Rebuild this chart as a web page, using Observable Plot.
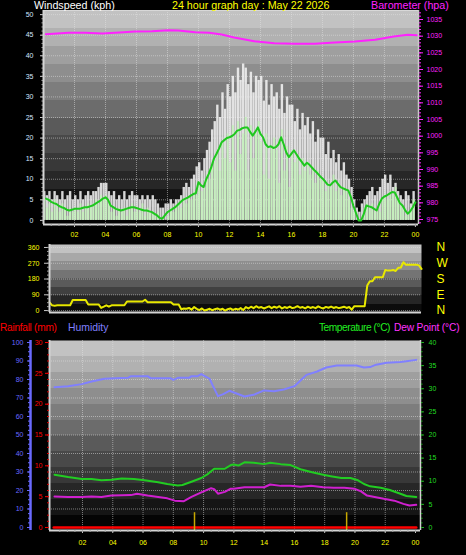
<!DOCTYPE html>
<html><head><meta charset="utf-8">
<script src="https://cdn.jsdelivr.net/npm/d3@7"></script>
<script src="https://cdn.jsdelivr.net/npm/@observablehq/plot@0.6"></script>
<style>
html,body{margin:0;padding:0;background:#000;}
#wrap{position:relative;width:466px;height:555px;overflow:hidden;background:#000;font-family:"Liberation Sans",Arial,sans-serif;}
.lbl{position:absolute;font-size:10.7px;line-height:11px;white-space:nowrap;}
.pl{position:absolute;left:0;}
</style></head><body>
<div id="wrap">
<svg id="defs" width="0" height="0" style="position:absolute"><defs></defs></svg>
<div id="p1" class="pl" style="top:0px"></div>
<div id="p2" class="pl" style="top:236px"></div>
<div id="p3" class="pl" style="top:330px"></div>
<div class="lbl" style="left:34px;top:0px;color:#ffffff">Windspeed (kph)</div>
<div class="lbl" style="left:172px;top:0px;color:#ffff00">24 hour graph day : May 22 2026</div>
<div class="lbl" style="left:371px;top:0px;color:#ff22ff">Barometer (hpa)</div>
<div class="lbl" style="left:0px;top:322px;color:#ff0000;font-size:10.2px;letter-spacing:-0.3px">Rainfall (mm)</div>
<div class="lbl" style="left:68px;top:322px;color:#8080ff;font-size:10.4px">Humidity</div>
<div class="lbl" style="right:76px;top:322px;color:#22ee22;font-size:10.2px;letter-spacing:-0.45px">Temperature (°C)</div>
<div class="lbl" style="left:394px;top:322px;color:#ff33ff;font-size:10.2px;letter-spacing:-0.15px">Dew Point (°C)</div>
</div>
<script>
// ---------- data (10-minute samples, 00:10 .. 24:00) ----------
const windGust = [
7,6,7,5,7,6, 5,7,5,6,7,5, 6,5,7,5,6,7, 6,7,7,8,9,9, 9,7,6,7,5,6, 5,7,5,6,7,6,
6,5,6,5,6,5, 6,5,4,3,3,4, 4,5,4,5,5,6, 8,9,8,10,11,13, 14,12,15,17,19,22, 24,28,25,31,27,33,
30,35,31,37,34,38, 37,33,36,31,35,34, 35,29,34,28,33,30, 31,27,33,26,30,28, 28,24,27,22,26,23, 25,21,24,19,22,20,
20,16,19,15,17,14, 16,12,14,11,10,8, 5,3,2,4,5,6, 7,8,6,7,8,10, 11,9,11,8,9,7, 6,5,7,6,4,7];
const windSpeed = [
5,3,4,2,5,3, 2,4,3,1,3,2, 3,2,4,2,3,4, 3,4,5,4,6,5, 6,4,2,3,1,3, 2,3,1,3,4,2,
3,2,4,1,3,2, 2,1,2,0,1,0, 1,3,2,3,4,3, 5,4,6,5,7,6, 9,7,8,11,10,13, 14,17,12,19,15,21,
14,23,12,24,16,21, 25,12,23,15,21,24, 19,11,21,10,18,20, 17,9,22,12,18,8, 17,14,16,11,15,12, 14,11,13,9,12,10,
10,7,9,8,11,7, 9,6,8,7,5,3, 2,0,0,1,3,4, 3,4,2,3,2,5, 6,5,7,6,8,5, 4,3,1,2,3,5];
const windAvg = [
5.3,5,4.5,4.2,4,3.5, 3.2,3,2.6,2.4,2.6,2.8, 2.8,2.8,3,3.2,3.2,3.4, 3.6,4,4.4,4.8,5.3,5.6,
5,3.6,3.2,2.8,2.6,2.4, 2.6,2.8,3,3.2,3.2,3, 2.8,2.6,2.4,2.4,2.2,2, 1.6,1.2,0.6,0.4,1.2,2,
2.4,2.8,3.2,3.8,4.4,5, 5.3,5.6,6,6.4,6.6,9.3, 8.5,8.1,10,11.3,13,15, 16.2,17.5,19,19.5,20,20.2,
20.5,21,21.8,22,22.4,22.6, 22.6,21.5,20.6,21.5,22.6,21, 20.2,18.5,17.8,18,17.6,17.8, 18.5,20.2,18.5,16.5,15.4,16.2,
17,16,15,14.2,13.3,14, 13.5,12.8,12.1,11.5,10.8,10.2, 9.5,8.7,8.5,9.2,9.7,8.9, 8.1,7.8,7.5,7.3,5.7,3.5,
1.8,0,0,1.5,3.6,3.4, 3.2,2.8,2.4,4,5.3,5.8, 6.1,6.5,6.9,6.8,5.5,4.2, 3.6,2.5,1.6,2.2,3.2,4.4];

const baroHours  = [0.15,1.6,2.7,3.8,4.9,5.9,7.0,8.1,8.7,9.8,10.7,11.5,12.3,13.6,14.9,16.2,17.5,18.8,20.1,21.4,22.6,23.5,24.1];
const baroValues = [1030.6,1031.0,1031.0,1030.8,1031.1,1031.4,1031.5,1031.8,1031.7,1031.2,1031.0,1030.5,1029.6,1028.5,1027.9,1027.7,1027.7,1028.1,1028.4,1028.9,1029.9,1030.4,1030.3];

// wind direction, 10-minute samples 00:00 .. 24:00
const windDir = [
47,30,28,30,30,30, 30,30,30,60,60,60, 60,60,60,35,35,35, 35,35,15,22,30,22, 30,30,30,30,30,30, 52,52,52,52,52,52,
52,62,48,48,48,48, 48,48,48,48,48,48, 35,35,35,8,12,10, 15,5,20,10,3,12, 0,5,10,2,8,12, 5,10,0,8,12,4,
10,6,14,3,20,12, 22,14,25,16,20,12, 18,24,14,22,16,25, 12,20,15,23,14,18, 25,16,20,13,22,15, 20,14,24,17,12,21,
16,23,15,20,14,18, 22,15,20,5,25,25, 25,25,25,143,167,167, 190,190,190,190,232,228, 228,232,226,244,246,276, 261,262,262,262,262,258,
238];

const humHours  = [0.15,1.05,1.95,2.6,3.45,5.0,5.2,6.3,6.5,7.8,8.0,8.3,9.05,9.2,9.6,9.85,10.05,10.4,10.6,10.95,11.3,11.7,12.0,12.7,13.3,14.0,14.65,15.3,16.0,16.4,16.8,17.5,18.1,18.8,19.5,20.1,20.6,21.0,21.4,22.1,23.0,23.4,24.05];
const humValues = [75.8,76.4,77.5,78.9,80.4,80.9,81.8,81.8,80.7,80.7,79.8,80.9,80.9,81.8,81.8,82.9,82.0,80.4,76.8,71.0,72.1,73.9,73.0,70.8,71.7,74.1,73.6,74.6,76.4,79.5,82.5,84.3,86.5,87.6,87.6,87.6,86.5,86.7,88.0,89.0,89.4,89.9,90.6];
const tempHours  = [0.15,1.05,1.95,2.6,3.25,3.9,4.6,5.4,6.1,7.0,7.6,8.3,8.6,9.2,9.85,10.3,10.7,11.4,11.8,12.0,12.3,12.7,13.3,14.0,14.4,15.1,15.75,16.4,17.1,17.75,18.4,19.1,19.7,20.2,20.6,21.0,21.7,22.3,23.0,23.4,24.05];
const tempValues = [11.4,10.9,10.5,10.5,10.2,10.3,10.6,10.5,10.2,9.8,9.4,9.1,9.2,9.9,10.7,11.6,12.7,12.7,13.5,13.6,13.4,14.1,14.0,13.7,14.0,13.7,13.5,12.6,12.0,11.5,11.1,10.7,10.7,10.2,9.4,8.9,8.6,8.1,7.3,6.8,6.6];
const dewHours  = [0.15,1.05,1.95,2.6,3.25,3.9,4.6,5.2,5.6,6.3,7.0,7.6,8.1,8.7,9.2,9.85,10.5,10.7,10.95,11.4,11.8,12.0,12.7,13.3,14.0,14.4,15.1,15.75,16.4,17.1,17.9,18.6,19.3,19.95,20.4,20.8,21.3,21.9,22.6,23.2,23.6,24.05];
const dewValues = [6.7,6.6,6.6,6.7,6.6,6.9,6.95,7.0,7.3,6.9,6.6,6.3,5.8,5.7,6.6,7.6,8.5,8.3,7.3,7.7,8.4,8.4,8.7,8.7,8.7,9.3,9.0,9.0,8.8,9.0,8.7,8.6,8.6,8.4,7.8,6.9,6.6,6.2,5.8,5.1,4.75,4.9];
const rainHours  = [0.1, 24.05];
const rainValues = [0, 0];
const rainMarkHours = [9.4, 19.45];

// ticks and tick labels
const hourTicks = [2,4,6,8,10,12,14,16,18,20,22,24];
const hourTickLabels = ["02","04","06","08","10","12","14","16","18","20","22","00"];
const windTicks = [0,5,10,15,20,25,30,35,40,45,50];
const baroTicks = [975,980,985,990,995,1000,1005,1010,1015,1020,1025,1030,1035];
const dirTicks = [0,90,180,270,360];
const compassLabels = ["N","E","S","W","N"];
const humTicks = [0,10,20,30,40,50,60,70,80,90,100];
const rainTicks = [0,5,10,15,20,25,30];
const tempTicks = [0,5,10,15,20,25,30,35,40];

// ---------- gradients ----------
function bands(id, top, bottom, n) {
  const g = d3.select("#defs defs").append("linearGradient")
    .attr("id", id).attr("x1", 0).attr("y1", 0).attr("x2", 0).attr("y2", 1);
  const c = d3.interpolateRgb(top, bottom);
  for (let k = 0; k < n; k++) {
    const col = c(k / (n - 1));
    g.append("stop").attr("offset", k / n).attr("stop-color", col);
    g.append("stop").attr("offset", (k + 1) / n).attr("stop-color", col);
  }
}
bands("bg1", "#c2c2c2", "#040404", 12);
bands("bg2", "#c2c2c2", "#0c0c0c", 8);
bands("bg3", "#c2c2c2", "#040404", 12);

const font = "Liberation Sans, Arial, sans-serif";
const gridStyle = {stroke: "#e6e6e6", strokeOpacity: 0.5, strokeDasharray: "1,1"};
const border = {stroke: "#d4d4d4", strokeWidth: 2};
const tickLabel = (ticks, labels) => d => labels[ticks.indexOf(d)];
const blank = () => "";

// ---------- panel 1 : wind + barometer ----------
const bLo = 973.5, bHi = 1037.7, wLo = -1, wHi = 51;
const baroToWind = b => wLo + (b - bLo) * (wHi - wLo) / (bHi - bLo);
const windToBaro = w => bLo + (w - wLo) * (bHi - bLo) / (wHi - wLo);
const windRows = windGust.map((g, i) => ({h0: i / 6, h1: (i + 1) / 6, gust: g, speed: windSpeed[i], avg: windAvg[i]}));
const baroRows = baroHours.map((h, i) => ({h, w: baroToWind(baroValues[i])}));

const p1 = Plot.plot({
  width: 466, height: 245,
  marginLeft: 43, marginRight: 48, marginTop: 10, marginBottom: 21,
  style: {background: "transparent", fontFamily: font, overflow: "visible"},
  x: {domain: [0, 24.2]},
  y: {domain: [wLo, wHi]},
  marks: [
    Plot.frame({fill: "url(#bg1)", stroke: "none"}),
    Plot.gridX({ticks: [2,4,6,8,10,12,14,16,18,20,22], ...gridStyle}),
    Plot.gridY({ticks: [5,10,15,20,25,30,35,40,45,50], ...gridStyle}),
    Plot.rectY(windRows, {x1: "h0", x2: "h1", y: "gust", fill: "#f2f2f2", fillOpacity: 0.88, insetLeft: 0.1, insetRight: 0.1}),
    Plot.rectY(windRows, {x1: "h0", x2: "h1", y: "speed", fill: "#c4f0bc", fillOpacity: 0.95, insetLeft: 0.35, insetRight: 0.35}),
    Plot.line(windRows, {x: "h1", y: "avg", stroke: "#1ec81e", strokeWidth: 2}),
    Plot.line(baroRows, {x: "h", y: "w", stroke: "#ff22ff", strokeWidth: 2, clip: true}),
    Plot.ruleX([0], border),
    Plot.ruleX([24.2], {stroke: "#c8c8c8", strokeWidth: 1.5}),
    Plot.ruleY([wLo], border),
    Plot.ruleY([wHi], {stroke: "#d8d8d8", strokeWidth: 1}),
    Plot.axisY({ticks: windTicks, label: null, tickSize: 3, tickPadding: 7, fontSize: 7, fill: "#d4e6ff", stroke: "#d0d0d0", tickFormat: d => String(d)}),
    Plot.axisY({ticks: d3.range(0, 51, 1), label: null, tickSize: 1.5, tickFormat: blank, stroke: "#b0b0b0"}),
    Plot.axisY({anchor: "right", label: null, ticks: baroTicks.map(baroToWind), tickFormat: d => String(Math.round(windToBaro(d))), tickSize: 4, tickPadding: 4, fontSize: 7, fill: "#ff22ff", stroke: "#ff22ff"}),
    Plot.axisY({anchor: "right", label: null, ticks: d3.range(974, 1038, 1).map(baroToWind), tickSize: 2, tickFormat: blank, stroke: "#ff22ff"}),
    Plot.axisX({ticks: hourTicks, label: null, tickFormat: tickLabel(hourTicks, hourTickLabels), tickSize: 3, tickPadding: 5, fontSize: 7, fill: "#ffff00", stroke: "#c8c8c8"}),
    Plot.axisX({ticks: d3.range(0.5, 24.2, 0.5), label: null, tickSize: 2, tickFormat: blank, stroke: "#a8a8a8"})
  ]
});
document.getElementById("p1").append(p1);

// ---------- panel 2 : wind direction ----------
const dirRows = windDir.map((d, i) => ({h: i / 6, d}));
const p2 = Plot.plot({
  width: 466, height: 82,
  marginLeft: 49, marginRight: 45, marginTop: 8, marginBottom: 6,
  style: {background: "transparent", fontFamily: font, overflow: "visible"},
  x: {domain: [0, 24]},
  y: {domain: [-11, 377]},
  marks: [
    Plot.frame({fill: "url(#bg2)", stroke: "none"}),
    Plot.gridY({ticks: dirTicks, ...gridStyle}),
    Plot.line(dirRows, {x: "h", y: "d", stroke: "#e8e800", strokeWidth: 2}),
    Plot.ruleX([0], border),
    Plot.ruleY([-11], border),
    Plot.axisY({ticks: dirTicks, label: null, tickSize: 5, tickPadding: 5, fontSize: 7, fill: "#ffff00", stroke: "#c8c8c8", tickFormat: d => String(d)}),
    Plot.axisY({ticks: d3.range(0, 361, 22.5), label: null, tickSize: 2, tickFormat: blank, stroke: "#a0a0a0"}),
    Plot.axisY({anchor: "right", label: null, ticks: dirTicks, tickFormat: tickLabel(dirTicks, compassLabels), tickSize: 0, tickPadding: 15, fontSize: 12, fill: "#ffff00"})
  ]
});
document.getElementById("p2").append(p2);

// ---------- panel 3 : temperature, dew point, humidity, rain ----------
const humToT = h => h * 0.4, tToHum = t => t / 0.4;
const rainToT = r => r * 4 / 3, tToRain = t => t * 3 / 4;
const humRows = humHours.map((h, i) => ({h, v: humToT(humValues[i])}));
const tempRows = tempHours.map((h, i) => ({h, v: tempValues[i]}));
const dewRows = dewHours.map((h, i) => ({h, v: dewValues[i]}));
const rainRows = rainHours.map((h, i) => ({h, v: rainToT(rainValues[i])}));
const x3 = [-0.18, 24.33], y3 = [-0.65, 40.43];

const p3 = Plot.plot({
  width: 466, height: 225,
  marginLeft: 49, marginRight: 46, marginTop: 10, marginBottom: 25,
  style: {background: "transparent", fontFamily: font, overflow: "visible"},
  x: {domain: x3},
  y: {domain: y3},
  marks: [
    Plot.frame({fill: "url(#bg3)", stroke: "none"}),
    Plot.gridX({ticks: [2,4,6,8,10,12,14,16,18,20,22], ...gridStyle}),
    Plot.gridY({ticks: [10,20,30,40,50,60,70,80,90].map(humToT), ...gridStyle}),
    Plot.line(humRows, {x: "h", y: "v", stroke: "#8080ff", strokeWidth: 2}),
    Plot.line(tempRows, {x: "h", y: "v", stroke: "#22cc22", strokeWidth: 2}),
    Plot.line(dewRows, {x: "h", y: "v", stroke: "#d020d0", strokeWidth: 2}),
    Plot.line(rainRows, {x: "h", y: "v", stroke: "#ff0000", strokeWidth: 2.5}),
    Plot.ruleX(rainMarkHours, {y1: y3[0], y2: 3.2, stroke: "#c8a800", strokeWidth: 1.5}),
    Plot.ruleX([x3[0]], border),
    Plot.ruleX([x3[1]], {stroke: "#d0d0d0", strokeWidth: 1.5}),
    Plot.ruleY([y3[0]], border),
    Plot.ruleX([x3[0]], {dx: -19, stroke: "#6a6aff", strokeWidth: 2.5}),
    Plot.axisY({ticks: humTicks.map(humToT), label: null, tickFormat: d => String(Math.round(tToHum(d))), dx: -19, tickSize: 3, tickPadding: 4, fontSize: 7, fill: "#6a6aff", stroke: "#6a6aff"}),
    Plot.axisY({ticks: d3.range(0, 101, 2.5).map(humToT), label: null, tickFormat: blank, dx: -19, tickSize: 2, stroke: "#6a6aff"}),
    Plot.axisY({ticks: rainTicks.map(rainToT), label: null, tickFormat: d => String(Math.round(tToRain(d))), tickSize: 4, tickPadding: 3, fontSize: 7, fill: "#ff0000", stroke: "#ff0000"}),
    Plot.axisY({ticks: d3.range(0, 31, 1).map(rainToT), label: null, tickFormat: blank, tickSize: 2, stroke: "#e00000"}),
    Plot.axisY({anchor: "right", label: null, ticks: tempTicks, tickSize: 3, tickPadding: 5, fontSize: 7, fill: "#22dd22", stroke: "#20b020", tickFormat: d => String(d)}),
    Plot.axisY({anchor: "right", label: null, ticks: d3.range(0, 41, 1), tickSize: 1.5, tickFormat: blank, stroke: "#20b020"}),
    Plot.axisX({ticks: hourTicks, label: null, tickFormat: tickLabel(hourTicks, hourTickLabels), tickSize: 3, tickPadding: 6.5, fontSize: 7, fill: "#ffff00", stroke: "#c8c8c8"}),
    Plot.axisX({ticks: d3.range(0.5, 24.3, 0.5), label: null, tickSize: 2, tickFormat: blank, stroke: "#a8a8a8"})
  ]
});
document.getElementById("p3").append(p3);
</script>
</body></html>
